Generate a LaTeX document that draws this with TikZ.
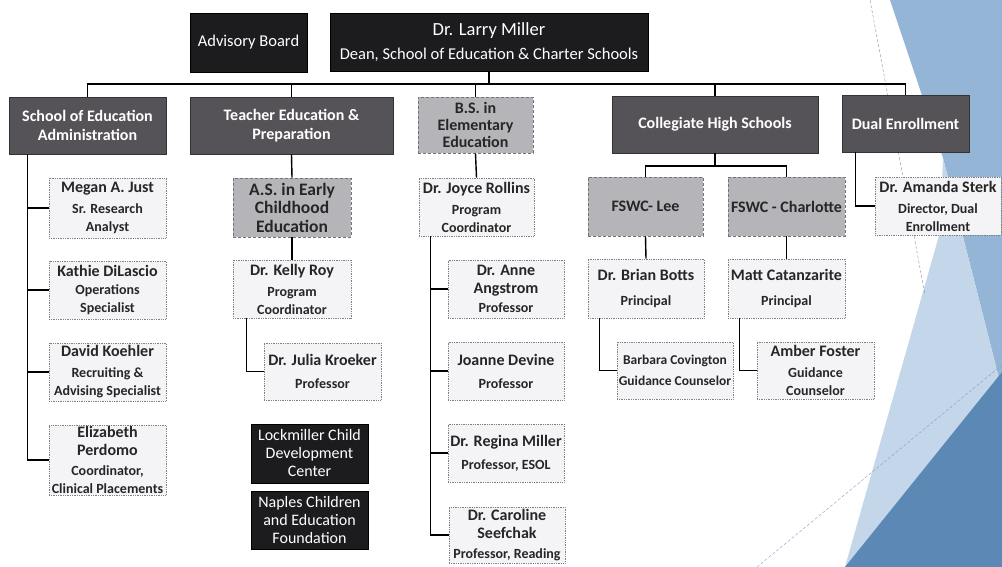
\documentclass[tikz,border=0pt]{standalone}
\usepackage{fontspec}
\setmainfont{Carlito}
\definecolor{topblack}{HTML}{1C1B1D}
\definecolor{deptgray}{HTML}{555358}
\definecolor{unitgray}{HTML}{B5B4B8}
\definecolor{staffbg}{HTML}{F4F3F6}
\definecolor{bgmid}{HTML}{94B5D6}
\definecolor{bglight}{HTML}{C3D6EA}
\definecolor{bgdark}{HTML}{5C88B6}
\tikzset{every picture/.style={line width=0.75pt}}
\tikzset{
  topbox/.style={draw=black,fill=topblack,text=white,align=center,inner sep=1pt,font=\fontsize{16.5}{19}\selectfont},
  deptbox/.style={draw=black!80,fill=deptgray,text=white,align=center,inner sep=1pt,font=\fontsize{16}{19}\selectfont\bfseries},
  unitbox/.style={draw=black!55,densely dashed,fill=unitgray,text=black!85,align=center,inner sep=1pt,font=\fontsize{16}{19}\selectfont\bfseries},
  staffbox/.style={draw=black!50,densely dotted,fill=staffbg,text=black!85,align=center,inner sep=1pt,font=\fontsize{16}{18}\selectfont\bfseries},
  link/.style={draw=black,line width=1.4pt}
}
\newcommand{\ttl}[1]{{\fontsize{14}{15}\selectfont #1}}
\begin{document}
\begin{tikzpicture}[x=1pt,y=-1pt]
\useasboundingbox (0,0) rectangle (1002,567);
% hintergrund
\fill[bgmid] (890,0) -- (1002,0) -- (1002,390) -- (943,158) -- cycle;
\fill[bglight] (943,158) -- (1002,390) -- (1002,567) -- (845,567) -- (940,232) -- cycle;
\fill[bgdark] (1002,372) -- (1002,567) -- (845,567) -- cycle;
\draw[black!45,densely dashed,line width=0.4pt] (870,0) -- (925,295);
\draw[bgdark!80,densely dashed,line width=0.4pt] (757,567) -- (1002,365);
% oben
\node[topbox,minimum width=117pt,minimum height=59pt] (adv) at (248.5,42.5) {Advisory Board};
\node[topbox,minimum width=318pt,minimum height=58pt] (dean) at (489,42) {{\fontsize{18.5}{20}\selectfont Dr. Larry Miller}\\[5pt]Dean, School of Education \& Charter Schools};
% abteilungen
\node[deptbox,minimum width=157pt,minimum height=57pt] (soe) at (87.5,125.5) {School of Education\\Administration};
\node[deptbox,minimum width=203pt,minimum height=57pt] (ted) at (291.5,125.5) {Teacher Education \&\\Preparation};
\node[unitbox,minimum width=115pt,minimum height=56pt,font=\fontsize{16}{17}\selectfont\bfseries] (bse) at (475.5,125) {B.S. in\\Elementary\\Education};
\node[deptbox,minimum width=206pt,minimum height=57pt] (chs) at (715,124.5) {Collegiate High Schools};
\node[deptbox,minimum width=127pt,minimum height=57pt] (due) at (905.5,123.5) {Dual Enrollment};
\coordinate (bus) at (0,84);
\draw[link] (dean.south) -- (dean.south |- bus);
\draw[link] (soe.north) |- (bus -| due.north) -- (due.north);
\foreach \d in {ted,bse,chs} \draw[link] (\d.north) -- (\d.north |- bus);
% verwaltung
\node[staffbox,minimum width=117pt,minimum height=60pt] (just) at (107.5,208) {Megan A. Just\\[3pt]\ttl{Sr. Research}\\\ttl{Analyst}};
\node[staffbox,minimum width=117pt,minimum height=58pt] (dilascio) at (107.5,290) {Kathie DiLascio\\\ttl{Operations}\\\ttl{Specialist}};
\node[staffbox,minimum width=117pt,minimum height=58pt] (koehler) at (107.5,372) {David Koehler\\[3pt]\ttl{Recruiting \&}\\\ttl{Advising Specialist}};
\node[staffbox,minimum width=117pt,minimum height=70pt] (perdomo) at (107.5,460) {Elizabeth\\Perdomo\\[2pt]\ttl{Coordinator,}\\\ttl{Clinical Placements}};
\foreach \s in {just,dilascio,koehler,perdomo}
  \draw[link] ([xshift=19pt]soe.south west) |- (\s.west);
% lehrerbildung
\node[unitbox,minimum width=118pt,minimum height=59pt,font=\fontsize{17.5}{18.5}\selectfont\bfseries] (ase) at (292,207.5) {A.S. in Early\\Childhood\\Education};
\node[staffbox,minimum width=118pt,minimum height=58pt] (roy) at (292,289) {Dr. Kelly Roy\\[3pt]\ttl{Program}\\\ttl{Coordinator}};
\node[staffbox,minimum width=117pt,minimum height=57pt] (kroeker) at (322.5,371.5) {Dr. Julia Kroeker\\[5pt]\ttl{Professor}};
\node[topbox,minimum width=117pt,minimum height=59pt,font=\fontsize{16}{18}\selectfont] (lock) at (309.5,453.5) {Lockmiller Child\\Development\\Center};
\node[topbox,minimum width=117pt,minimum height=58pt,font=\fontsize{16}{18}\selectfont] (naples) at (309.5,520) {Naples Children\\and Education\\Foundation};
\draw[link] (ted.south) -- (ase.north);
\draw[link] (ase.south) -- (roy.north);
\draw[link] ([xshift=14pt]roy.south west) |- (kroeker.west);
% grundschulpaedagogik
\node[staffbox,minimum width=115pt,minimum height=58pt] (rollins) at (476.5,207) {Dr. Joyce Rollins\\[3pt]\ttl{Program}\\\ttl{Coordinator}};
\node[staffbox,minimum width=116pt,minimum height=58pt] (angstrom) at (506,289) {Dr. Anne\\Angstrom\\[1pt]\ttl{Professor}};
\node[staffbox,minimum width=116pt,minimum height=58pt] (devine) at (506,371) {Joanne Devine\\[5pt]\ttl{Professor}};
\node[staffbox,minimum width=116pt,minimum height=58pt] (rmiller) at (506,453) {Dr. Regina Miller\\[5pt]\ttl{Professor, ESOL}};
\node[staffbox,minimum width=116pt,minimum height=56pt] (seefchak) at (507,535) {Dr. Caroline\\Seefchak\\[2pt]\ttl{Professor, Reading}};
\draw[link] (bse.south) -- (rollins.north);
\foreach \s in {angstrom,devine,rmiller,seefchak}
  \draw[link] ([xshift=12pt]rollins.south west) |- (\s.west);
% collegiate high schools
\node[unitbox,minimum width=115pt,minimum height=59pt] (lee) at (645.5,206.5) {FSWC- Lee};
\node[unitbox,minimum width=117pt,minimum height=59pt] (charl) at (786.5,206.5) {FSWC - Charlotte};
\node[staffbox,minimum width=116pt,minimum height=59pt] (botts) at (646,288.5) {Dr. Brian Botts\\[7pt]\ttl{Principal}};
\node[staffbox,minimum width=117pt,minimum height=59pt] (catanz) at (786.5,288.5) {Matt Catanzarite\\[7pt]\ttl{Principal}};
\node[staffbox,minimum width=116pt,minimum height=57pt,font=\fontsize{13.5}{15}\selectfont\bfseries] (covington) at (675,370.5) {Barbara Covington\\[6pt]Guidance Counselor};
\node[staffbox,minimum width=117pt,minimum height=57pt] (foster) at (815.5,370.5) {Amber Foster\\[3pt]\ttl{Guidance}\\\ttl{Counselor}};
\coordinate (chsbus) at (0,166);
\draw[link] (chs.south) -- (chs.south |- chsbus);
\draw[link] (lee.north) |- (charl.north |- chsbus) -- (charl.north);
\draw[link] (lee.south) -- (botts.north);
\draw[link] (charl.south) -- (catanz.north);
\draw[link] ([xshift=12pt]botts.south west) |- (covington.west);
\draw[link] ([xshift=12pt]catanz.south west) |- (foster.west);
% dual enrollment
\node[staffbox,minimum width=126pt,minimum height=58pt] (sterk) at (938,206) {Dr. Amanda Sterk\\[3pt]\ttl{Director, Dual}\\\ttl{Enrollment}};
\draw[link] ([xshift=14pt]due.south west) |- (sterk.west);
\end{tikzpicture}
\end{document}
